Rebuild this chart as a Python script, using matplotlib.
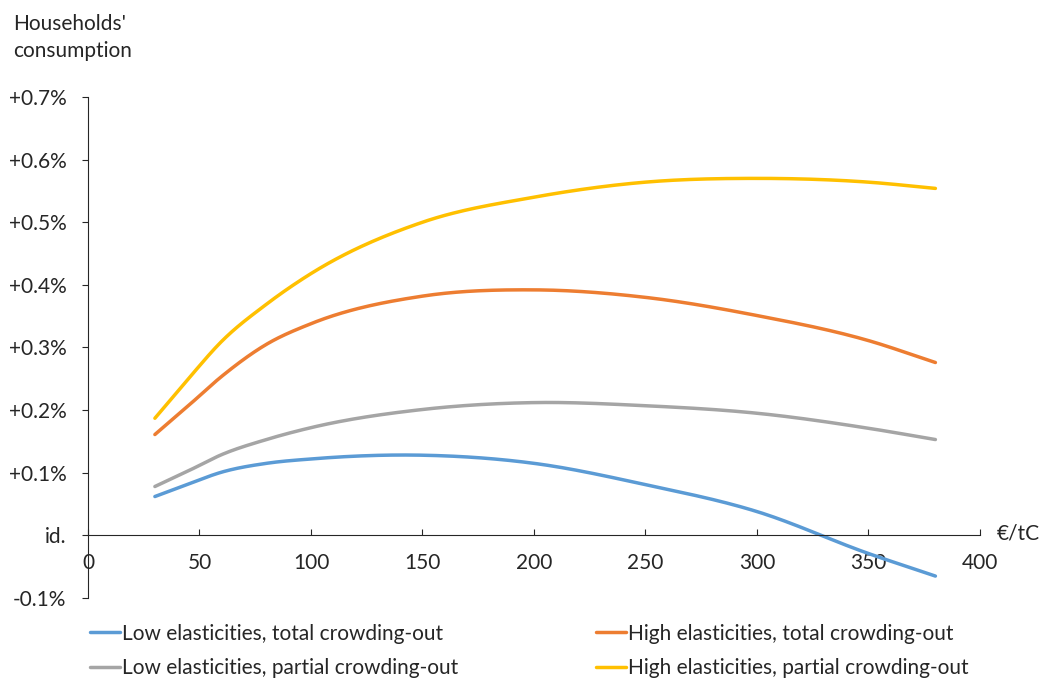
import numpy as np
import matplotlib
matplotlib.use("Agg")
import matplotlib.pyplot as plt

plt.rcParams['font.family'] = ['Lato', 'DejaVu Sans']

# carbon price (EUR/tC) and change in households' consumption (%)
price = [30, 45, 60, 80, 100, 150, 200, 250, 300, 350, 380]
low_total = [0.062, 0.082, 0.101, 0.115, 0.122, 0.128, 0.115, 0.081, 0.038, -0.029, -0.065]
high_total = [0.161, 0.207, 0.254, 0.305, 0.338, 0.382, 0.392, 0.380, 0.351, 0.311, 0.276]
low_partial = [0.078, 0.103, 0.129, 0.153, 0.172, 0.201, 0.212, 0.207, 0.195, 0.171, 0.153]
high_partial = [0.187, 0.250, 0.310, 0.369, 0.418, 0.500, 0.540, 0.564, 0.570, 0.564, 0.554]

series_names = ["Low elasticities, total crowding-out",
                "High elasticities, total crowding-out",
                "Low elasticities, partial crowding-out",
                "High elasticities, partial crowding-out"]
colors = ["#5B9BD5", "#ED7D31", "#A5A5A5", "#FFC000"]

y_ticks = [-0.1, 0.0, 0.1, 0.2, 0.3, 0.4, 0.5, 0.6, 0.7]
y_labels = ["-0.1%", "id.", "+0.1%", "+0.2%", "+0.3%", "+0.4%", "+0.5%", "+0.6%", "+0.7%"]
x_ticks = [0, 50, 100, 150, 200, 250, 300, 350, 400]

FS = 15
INK = '#262626'


def smooth(xs, ys, n=40):
    # cubic Hermite curve through the points, slopes from neighbouring segments
    xs = np.asarray(xs, float)
    ys = np.asarray(ys, float)
    h = np.diff(xs)
    d = np.diff(ys) / h
    m = np.empty_like(ys)
    m[0], m[-1] = d[0], d[-1]
    m[1:-1] = (d[1:] * h[:-1] + d[:-1] * h[1:]) / (h[:-1] + h[1:])
    ox, oy = [], []
    t = np.linspace(0, 1, n, endpoint=False)
    for i in range(len(xs) - 1):
        h00 = 2 * t ** 3 - 3 * t ** 2 + 1
        h10 = t ** 3 - 2 * t ** 2 + t
        h01 = -2 * t ** 3 + 3 * t ** 2
        h11 = t ** 3 - t ** 2
        ox.extend(xs[i] + t * h[i])
        oy.extend(h00 * ys[i] + h10 * h[i] * m[i] + h01 * ys[i + 1] + h11 * h[i] * m[i + 1])
    ox.append(xs[-1])
    oy.append(ys[-1])
    return ox, oy


fig = plt.figure(figsize=(10.45, 6.8), dpi=100)
ax = fig.add_axes([0.0842, 0.1206, 0.8536, 0.7368])

lines = []
for vals, name, c in zip([low_total, high_total, low_partial, high_partial], series_names, colors):
    sx, sy = smooth(price, vals)
    ln, = ax.plot(sx, sy, color=c, lw=2.5, label=name, solid_capstyle='round')
    lines.append(ln)

ax.set_xlim(0, 400)
ax.set_ylim(-0.1, 0.7)
ax.spines['top'].set_visible(False)
ax.spines['right'].set_visible(False)
ax.spines['bottom'].set_position(('data', 0))
ax.spines['left'].set_color(INK)
ax.spines['bottom'].set_color(INK)

ax.set_yticks(y_ticks)
ax.set_yticklabels(y_labels, fontsize=FS, color=INK)
ax.tick_params(axis='y', direction='out', length=4.5, pad=11, color=INK)
ax.set_xticks(x_ticks)
ax.set_xticklabels([str(v) for v in x_ticks], fontsize=FS, color=INK)
ax.tick_params(axis='x', direction='in', length=4.5, pad=13, color=INK)

fig.text(0.013, 0.91, "Households'\nconsumption", fontsize=FS, color=INK,
         ha='left', va='bottom', linespacing=1.45)
ax.text(1.019, 0.128, "€/tC", transform=ax.transAxes, fontsize=FS, color=INK,
        ha='left', va='center')

# legend filled row by row: low/high total on first row, low/high partial on second
order = [0, 2, 1, 3]
fig.legend([lines[i] for i in order], [series_names[i] for i in order],
           loc='lower left', bbox_to_anchor=(0.068, -0.025), ncol=2, frameon=False,
           fontsize=FS, handlelength=1.45, handletextpad=0.1, columnspacing=6.6,
           labelspacing=0.7, labelcolor=INK)

fig.savefig("out.png", dpi=100)
